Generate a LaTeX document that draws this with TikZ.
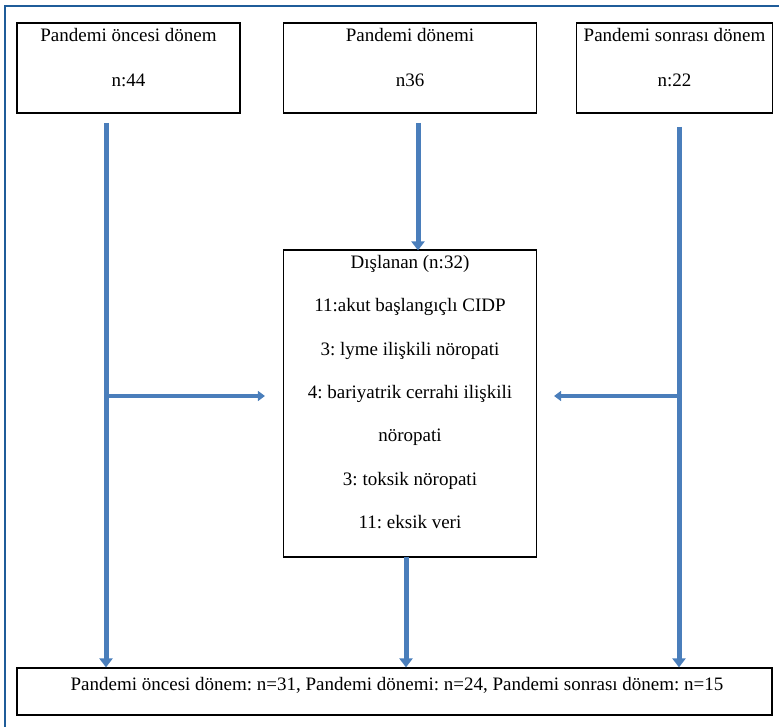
\documentclass[tikz,border=0pt]{standalone}
\usepackage{fontspec}
\setmainfont{Liberation Serif}
\frenchspacing
\usetikzlibrary{arrows.meta,calc}
\definecolor{flowblue}{RGB}{74,126,187}
\definecolor{framblue}{RGB}{31,92,153}
\tikzset{box/.style={draw,line width=1.2pt,inner sep=0pt},
txt/.style={font=\fontsize{19}{23}\selectfont,inner sep=0pt},
vflow/.style={flowblue,line width=5pt,-{Triangle[length=9pt,width=13pt]}},
hflow/.style={flowblue,line width=3.5pt,-{Triangle[length=7pt,width=10pt]}}}

\begin{document}
\begin{tikzpicture}[x=1pt,y=-1pt]
\useasboundingbox (0,0) rectangle (779,727);
\draw[framblue,line width=1.5pt] (5,727)--(5,6)--(779,6);
% boxes
\node[box,minimum width=223,minimum height=90] (pre) at (128.5,68){};
\node[box,minimum width=253,minimum height=90] (mid) at (410,68){};
\node[box,minimum width=196,minimum height=90] (post) at (674.5,68){};
\node[box,minimum width=253,minimum height=307] (exc) at (410,403.5){};
\node[box,minimum width=755,minimum height=47] (fin) at (394.5,691.5){};
\node[txt] (preT) at (128.5,35){Pandemi öncesi dönem};\node[txt] (preN) at (128.5,80){n:44};
\node[txt] (midT) at (410,35){Pandemi dönemi};\node[txt] (midN) at (410,80){n36};
\node[txt] (postT) at (674.5,35){Pandemi sonrası dönem};\node[txt] (postN) at (674.5,80){n:22};
\node[txt,align=center,font=\fontsize{19}{43.4}\selectfont,anchor=north] (excT) at (410,255)
{Dışlanan (n:32)\\11:akut başlangıçlı CIDP\\ 3: lyme ilişkili nöropati\\4: bariyatrik cerrahi ilişkili\\nöropati\\3: toksik nöropati\\11: eksik veri};
\node[txt] (finT) at (397,685){Pandemi öncesi dönem: n=31, Pandemi dönemi: n=24, Pandemi sonrası dönem: n=15};
% arrows
\coordinate (a1) at (106,123);\coordinate (a2) at (418,123);\coordinate (a3) at (679,127);
\coordinate (b1) at (106,396);\coordinate (b3) at (679,396);\coordinate (c2) at (406,557);
\draw[vflow] (a1)--(a1 |- fin.north);\draw[vflow] (a3)--(a3 |- fin.north);
\draw[vflow] (a2)--([yshift=-1]a2 |- exc.north);\draw[vflow] (c2)--(c2 |- fin.north);
\draw[hflow] (b1)--([xshift=-18]exc.west |- b1);\draw[hflow] (b3)--([xshift=17]exc.east |- b3);
\end{tikzpicture}
\end{document}
